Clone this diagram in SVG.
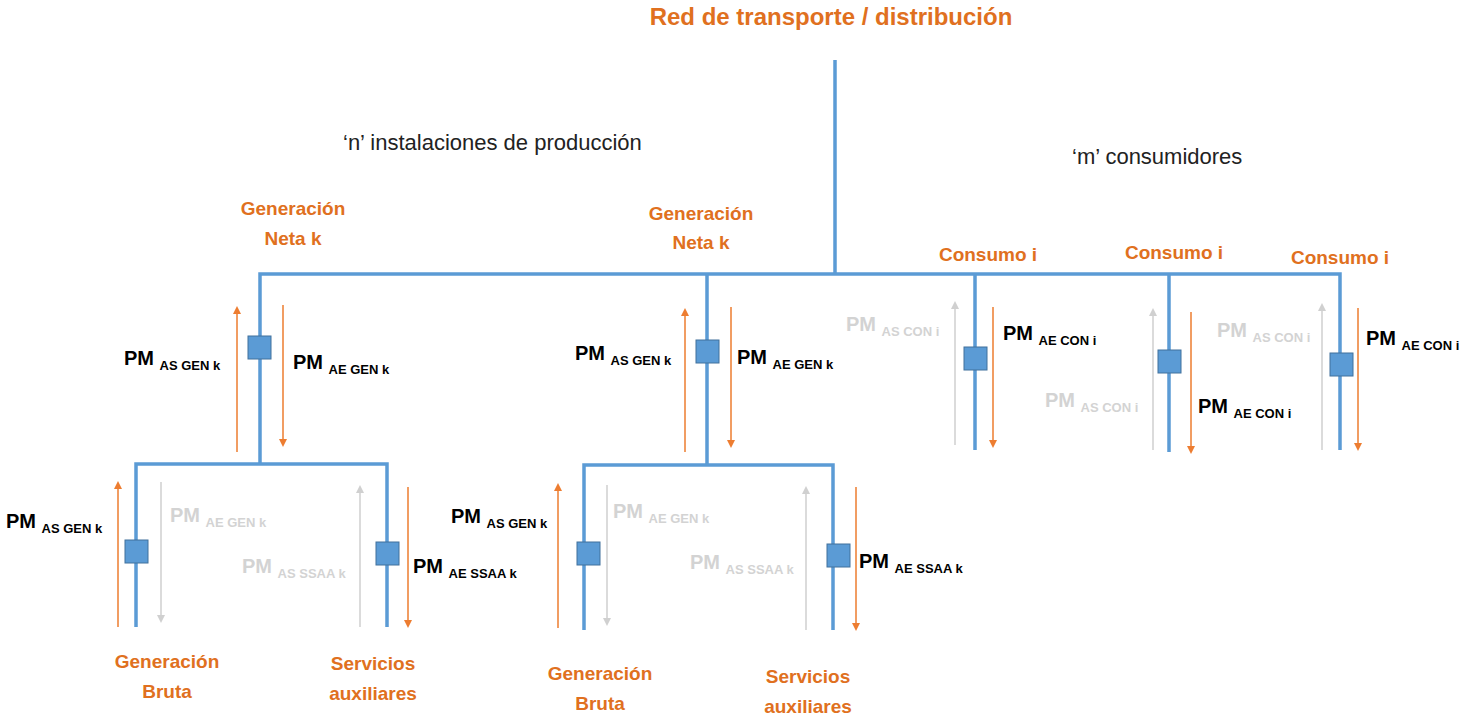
<svg xmlns="http://www.w3.org/2000/svg" width="1475" height="719" viewBox="0 0 1475 719">
<style>
text{font-family:"Liberation Sans",Arial,sans-serif}
.w{stroke:#5B9BD5;stroke-width:3.5;fill:none}
.m{fill:#5B9BD5;stroke:#41719C;stroke-width:1}
.t{fill:#E07020;font-weight:bold;font-size:19px;text-anchor:middle}
.p{font-weight:bold;font-size:20px;fill:#000}
.p tspan{font-size:13px}
.q{font-weight:bold;font-size:20px;fill:#D3D3D3}
.q tspan{font-size:13px}
.n{font-size:22px;fill:#222}
</style>
<text x="831" y="25" class="t" style="font-size:24px">Red de transporte / distribución</text>
<text x="343" y="150" class="n">‘n’ instalaciones de producción</text>
<text x="1072" y="164" class="n">‘m’ consumidores</text>
<g id="wires">
<path class="w" d="M835 60V275M260 464V274H1340V450"/>
<path class="w" d="M136 627V464H387V627"/>
<path class="w" d="M707 274V465M584 630V465H833V630"/>
<path class="w" d="M975 275V450M1169 275V452"/>
</g>
<g id="meters">
<rect class="m" x="248" y="336" width="23" height="23"/>
<rect class="m" x="125" y="540" width="23" height="23"/>
<rect class="m" x="376" y="542" width="23" height="23"/>
<rect class="m" x="696" y="340" width="23" height="23"/>
<rect class="m" x="577" y="542" width="23" height="23"/>
<rect class="m" x="827" y="544" width="23" height="23"/>
<rect class="m" x="964" y="347" width="23" height="23"/>
<rect class="m" x="1158" y="350" width="23" height="23"/>
<rect class="m" x="1330" y="353" width="23" height="23"/>
</g>
<g id="flow" fill="none">
<path d="M237 452V312M118 627V487M685 452V314M558 628V489" stroke="#ED7D31" stroke-width="1.5"/>
<path d="M283 305V440M408 487V621M731 307V441M856 487V624M993 307V441M1191 312V447M1358 308V444" stroke="#ED7D31" stroke-width="1.5"/>
<path d="M161 482V616M607 485V619" stroke="#D0D0D0" stroke-width="1.5"/>
<path d="M360 627V491M806 630V492M955 445V307M1153 450V314M1322 450V309" stroke="#D0D0D0" stroke-width="1.5"/>
<g fill="#ED7D31" stroke="none">
<path d="M233 314l4-8 4 8zM114 489l4-8 4 8zM681 316l4-8 4 8zM554 491l4-8 4 8z"/>
<path d="M279 439l4 8 4-8zM404 620l4 8 4-8zM727 440l4 8 4-8zM852 623l4 8 4-8zM989 440l4 8 4-8zM1187 446l4 8 4-8zM1354 443l4 8 4-8z"/>
</g>
<g fill="#D0D0D0" stroke="none">
<path d="M157 615l4 8 4-8zM603 618l4 8 4-8z"/>
<path d="M356 493l4-8 4 8zM802 494l4-8 4 8zM951 309l4-8 4 8zM1149 316l4-8 4 8zM1318 311l4-8 4 8z"/>
</g>
</g>
<g id="labels">
<text class="t" x="293" y="215">Generación</text><text class="t" x="293" y="245">Neta k</text>
<text class="t" x="701" y="220">Generación</text><text class="t" x="701" y="249">Neta k</text>
<text class="t" x="988" y="261">Consumo i</text>
<text class="t" x="1174" y="259">Consumo i</text>
<text class="t" x="1340" y="264">Consumo i</text>
<text class="t" x="167" y="668">Generación</text><text class="t" x="167" y="698">Bruta</text>
<text class="t" x="373" y="670">Servicios</text><text class="t" x="373" y="700">auxiliares</text>
<text class="t" x="600" y="680">Generación</text><text class="t" x="600" y="710">Bruta</text>
<text class="t" x="808" y="683">Servicios</text><text class="t" x="808" y="713">auxiliares</text>
<text class="p" x="124" y="365">PM <tspan dy="5">AS GEN k</tspan></text>
<text class="p" x="293" y="369">PM <tspan dy="5">AE GEN k</tspan></text>
<text class="p" x="6" y="528">PM <tspan dy="5">AS GEN k</tspan></text>
<text class="q" x="170" y="522">PM <tspan dy="5">AE GEN k</tspan></text>
<text class="q" x="242" y="573">PM <tspan dy="5">AS SSAA k</tspan></text>
<text class="p" x="413" y="573">PM <tspan dy="5">AE SSAA k</tspan></text>
<text class="p" x="575" y="360">PM <tspan dy="5">AS GEN k</tspan></text>
<text class="p" x="737" y="364">PM <tspan dy="5">AE GEN k</tspan></text>
<text class="p" x="451" y="523">PM <tspan dy="5">AS GEN k</tspan></text>
<text class="q" x="613" y="518">PM <tspan dy="5">AE GEN k</tspan></text>
<text class="q" x="690" y="569">PM <tspan dy="5">AS SSAA k</tspan></text>
<text class="p" x="859" y="568">PM <tspan dy="5">AE SSAA k</tspan></text>
<text class="q" x="846" y="331">PM <tspan dy="5">AS CON i</tspan></text>
<text class="p" x="1003" y="340">PM <tspan dy="5">AE CON i</tspan></text>
<text class="q" x="1045" y="407">PM <tspan dy="5">AS CON i</tspan></text>
<text class="p" x="1198" y="413">PM <tspan dy="5">AE CON i</tspan></text>
<text class="q" x="1217" y="337">PM <tspan dy="5">AS CON i</tspan></text>
<text class="p" x="1366" y="345">PM <tspan dy="5">AE CON i</tspan></text>
</g>
</svg>
